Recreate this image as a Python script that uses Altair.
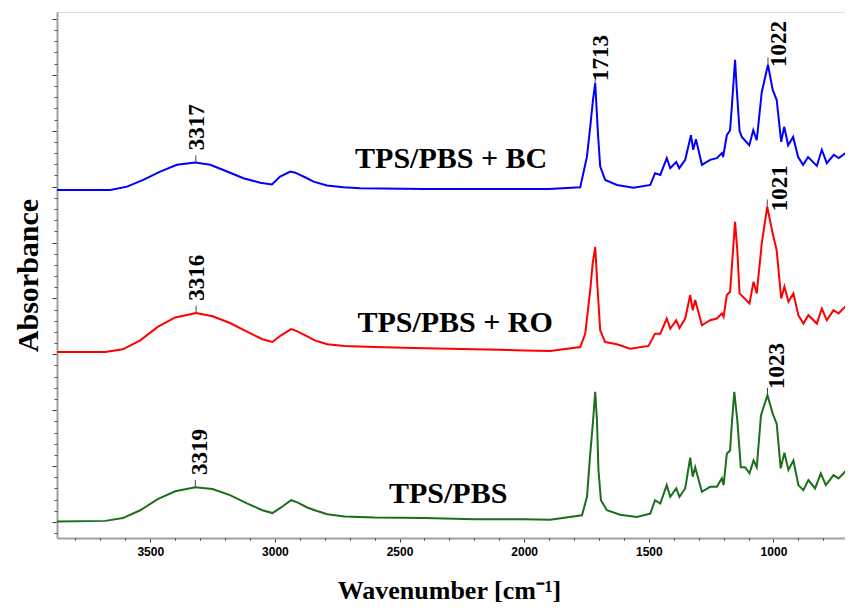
import altair as alt
import pandas as pd

# ---------------- data ----------------
series_names = ["TPS/PBS + BC", "TPS/PBS + RO", "TPS/PBS"]
series_offsets = [6, 3, 0]
series_colors = ["#0000ff", "#ff0000", "#1b6e1b"]

bc_wn = [3874, 3660, 3593, 3528, 3460, 3393, 3320, 3259, 3192, 3126, 3059, 3012, 2979, 2938, 2918,
         2871, 2845, 2791, 2725, 2658, 2400, 2100, 1900, 1775, 1748, 1735, 1724, 1715, 1704, 1695,
         1675, 1628, 1561, 1494, 1475, 1454, 1428, 1414, 1390, 1378, 1354, 1331, 1322, 1311, 1287,
         1254, 1227, 1207, 1202, 1187, 1174, 1167, 1154, 1147, 1136, 1127, 1097, 1081, 1067, 1047,
         1022, 1003, 987, 969, 957, 941, 921, 901, 881, 861, 826, 806, 786, 758, 738, 705, 681]
bc_abs = [-0.06, -0.06, 0.0, 0.12, 0.27, 0.39, 0.43, 0.39, 0.27, 0.15, 0.07, 0.04, 0.18, 0.27, 0.25,
          0.15, 0.09, 0.02, -0.01, -0.03, -0.04, -0.04, -0.04, -0.01, 0.54, 1.07, 1.55, 1.85, 0.95, 0.36,
          0.12, 0.03, -0.02, 0.03, 0.24, 0.21, 0.51, 0.33, 0.44, 0.33, 0.48, 0.92, 0.66, 0.85, 0.39,
          0.48, 0.51, 0.60, 0.53, 0.92, 1.01, 1.43, 2.27, 1.73, 1.00, 0.89, 0.74, 1.01, 0.83, 1.69,
          2.18, 1.73, 1.55, 0.80, 1.07, 0.74, 0.89, 0.53, 0.39, 0.53, 0.37, 0.66, 0.42, 0.57, 0.51, 0.62, 0.64]

ro_wn = [3874, 3680, 3610, 3540, 3470, 3400, 3316, 3250, 3180, 3110, 3050, 3010, 2975, 2935, 2910,
         2870, 2840, 2790, 2720, 2600, 2400, 2200, 2000, 1896, 1775, 1755, 1735, 1725, 1715, 1706,
         1695, 1675, 1628, 1575, 1501, 1475, 1454, 1428, 1414, 1390, 1377, 1354, 1334, 1324, 1314,
         1287, 1254, 1227, 1207, 1200, 1187, 1174, 1167, 1154, 1145, 1136, 1096, 1080, 1067, 1047,
         1025, 1003, 987, 969, 956, 940, 920, 900, 880, 860, 826, 806, 786, 759, 739, 706, 682]
ro_abs = [0.04, 0.04, 0.09, 0.25, 0.49, 0.66, 0.74, 0.68, 0.56, 0.40, 0.27, 0.22, 0.34, 0.45, 0.41,
          0.32, 0.25, 0.18, 0.15, 0.13, 0.11, 0.09, 0.07, 0.06, 0.13, 0.37, 1.15, 1.63, 1.92, 1.21,
          0.43, 0.22, 0.18, 0.10, 0.15, 0.37, 0.37, 0.64, 0.46, 0.61, 0.47, 0.64, 1.06, 0.79, 0.97,
          0.52, 0.61, 0.64, 0.73, 0.67, 1.06, 1.12, 1.56, 2.37, 1.86, 1.09, 0.91, 1.30, 1.09, 1.98,
          2.64, 2.16, 1.86, 1.00, 1.21, 0.94, 1.09, 0.70, 0.55, 0.70, 0.55, 0.82, 0.61, 0.79, 0.73, 0.88, 0.94]

pbs_wn = [3874, 3680, 3610, 3540, 3470, 3400, 3319, 3250, 3180, 3110, 3050, 3010, 2975, 2935, 2910,
          2870, 2840, 2790, 2720, 2600, 2400, 2200, 2000, 1896, 1768, 1748, 1735, 1724, 1715, 1708,
          1702, 1692, 1668, 1615, 1548, 1494, 1475, 1454, 1428, 1414, 1390, 1377, 1354, 1334, 1324,
          1314, 1287, 1254, 1227, 1207, 1200, 1187, 1174, 1167, 1157, 1145, 1131, 1114, 1096, 1080,
          1067, 1050, 1024, 1003, 987, 971, 956, 940, 920, 900, 880, 860, 833, 810, 790, 759, 739, 706, 682]
pbs_abs = [0.01, 0.02, 0.07, 0.21, 0.41, 0.55, 0.62, 0.59, 0.48, 0.33, 0.21, 0.16, 0.26, 0.39, 0.35,
           0.26, 0.21, 0.14, 0.10, 0.08, 0.07, 0.05, 0.05, 0.04, 0.12, 0.45, 1.22, 1.79, 2.33, 1.82,
           0.93, 0.39, 0.21, 0.13, 0.09, 0.15, 0.39, 0.33, 0.66, 0.45, 0.60, 0.45, 0.60, 1.15, 0.81,
           0.98, 0.54, 0.63, 0.63, 0.78, 0.66, 1.22, 1.28, 1.76, 2.33, 1.82, 0.98, 0.98, 0.87, 1.10,
           0.98, 1.91, 2.27, 1.94, 1.76, 0.96, 1.24, 0.93, 1.10, 0.66, 0.57, 0.75, 0.60, 0.87, 0.66, 0.84, 0.78, 0.93, 0.98]

# series name labels (centre wavenumber, baseline level)
name_wn = [2293, 2277, 2305]
name_level = [6.33, 3.40, 0.335]

# peak annotations
peak_text = ["3317", "1713", "1022", "3316", "1021", "3319", "1023"]
peak_wn = [3317, 1715, 1022, 3316, 1025, 3319, 1024]
peak_level = [6.43, 7.85, 8.18, 3.74, 5.64, 0.62, 2.27]
peak_label_wn = [3311, 1691, 977, 3311, 973, 3299, 985]
peak_label_level = [6.65, 7.89, 8.14, 3.96, 5.56, 0.84, 2.38]

x_major = [1000, 1500, 2000, 2500, 3000, 3500]
x_minor = [w for w in range(800, 3900, 100) if w % 500 != 0]
y_major = list(range(0, 10))
y_minor = [round(k * 0.2, 1) for k in range(-1, 46) if k % 5 != 0]

# ---------------- tables ----------------
rows = []
for name, off, wn, ab in zip(series_names, series_offsets,
                             [bc_wn, ro_wn, pbs_wn], [bc_abs, ro_abs, pbs_abs]):
    assert len(wn) == len(ab), name
    for w, a in zip(wn, ab):
        rows.append({"wn": w, "val": a + off, "series": name})
spectra = pd.DataFrame(rows)

names_df = pd.DataFrame({"name": series_names, "wn": name_wn, "val": name_level})
peaks_df = pd.DataFrame({"text": peak_text, "wn": peak_wn, "val": peak_level,
                         "val2": [v + 0.13 for v in peak_level],
                         "lwn": peak_label_wn, "lval": peak_label_level})

SERIF = "Liberation Serif"
SANS = "Liberation Sans"

# plot area: 0.2493 px per wavenumber unit, right edge kept inside the page
xscale = alt.Scale(domain=[713, 3874], reverse=True, zero=False, nice=False)
yscale = alt.Scale(domain=[-0.2864, 9.1246], zero=False, nice=False)

x_main_axis = alt.Axis(values=x_major, format="d", orient="bottom", tickSize=4, tickColor="#333333",
                       tickWidth=1, domainColor="#a0a0a0", domainWidth=2, grid=False,
                       labelFont=SANS, labelFontSize=12, labelFontWeight="bold", labelColor="#000000",
                       labelPadding=4, labelFlush=False,
                       title="Wavenumber [cm⁻¹]", titleFont=SERIF, titleFontSize=26,
                       titleFontWeight="bold", titleColor="#000000", titleX=392, titleY=60,
                       titleBaseline="alphabetic", titleAlign="center")
y_main_axis = alt.Axis(values=y_major, orient="left", tickSize=5, tickColor="#333333", tickWidth=1,
                       domainColor="#a0a0a0", domainWidth=2, grid=False, labels=False,
                       title="Absorbance", titleFont=SERIF, titleFontSize=30, titleFontWeight="bold",
                       titleColor="#000000", titleAngle=270, titleX=-20, titleY=263,
                       titleBaseline="alphabetic", titleAlign="center")
x_minor_axis = alt.Axis(values=x_minor, orient="bottom", tickSize=2, tickColor="#333333", tickWidth=1,
                        domain=False, grid=False, labels=False)
y_minor_axis = alt.Axis(values=y_minor, orient="left", tickSize=3, tickColor="#555555", tickWidth=1,
                        domain=False, grid=False, labels=False)

lines = alt.Chart(spectra).mark_line(strokeWidth=2, clip=True).encode(
    x=alt.X("wn:Q", scale=xscale, axis=x_main_axis),
    y=alt.Y("val:Q", scale=yscale, axis=y_main_axis),
    color=alt.Color("series:N", scale=alt.Scale(domain=series_names, range=series_colors), legend=None),
    detail="series:N",
)

ticks = alt.Chart(peaks_df).mark_rule(color="#444444", strokeWidth=1).encode(
    x=alt.X("wn:Q", scale=xscale, axis=x_minor_axis, title=None),
    y=alt.Y("val:Q", scale=yscale, axis=y_minor_axis, title=None),
    y2="val2:Q",
)

name_text = alt.Chart(names_df).mark_text(font=SERIF, fontSize=30, fontWeight="bold",
                                          color="#000000", align="center", baseline="alphabetic").encode(
    x=alt.X("wn:Q", scale=xscale, axis=None),
    y=alt.Y("val:Q", scale=yscale, axis=None),
    text="name:N",
)

peak_labels = alt.Chart(peaks_df).mark_text(font=SERIF, fontSize=23, fontWeight="bold",
                                            color="#000000", angle=270, align="left",
                                            baseline="middle").encode(
    x=alt.X("lwn:Q", scale=xscale, axis=None),
    y=alt.Y("lval:Q", scale=yscale, axis=None),
    text="text:N",
)

chart = alt.layer(lines, ticks, name_text, peak_labels).resolve_scale(
    x="shared", y="shared"
).resolve_axis(
    x="independent", y="independent"
).properties(
    width=788, height=526,
    autosize=alt.AutoSizeParams(type="none"),
    padding={"left": 49, "top": 4, "right": 0, "bottom": 67},
).configure_view(stroke=None).configure(background="#ffffff")

chart.save("out.html", embed_options={"renderer": "svg", "actions": False})
